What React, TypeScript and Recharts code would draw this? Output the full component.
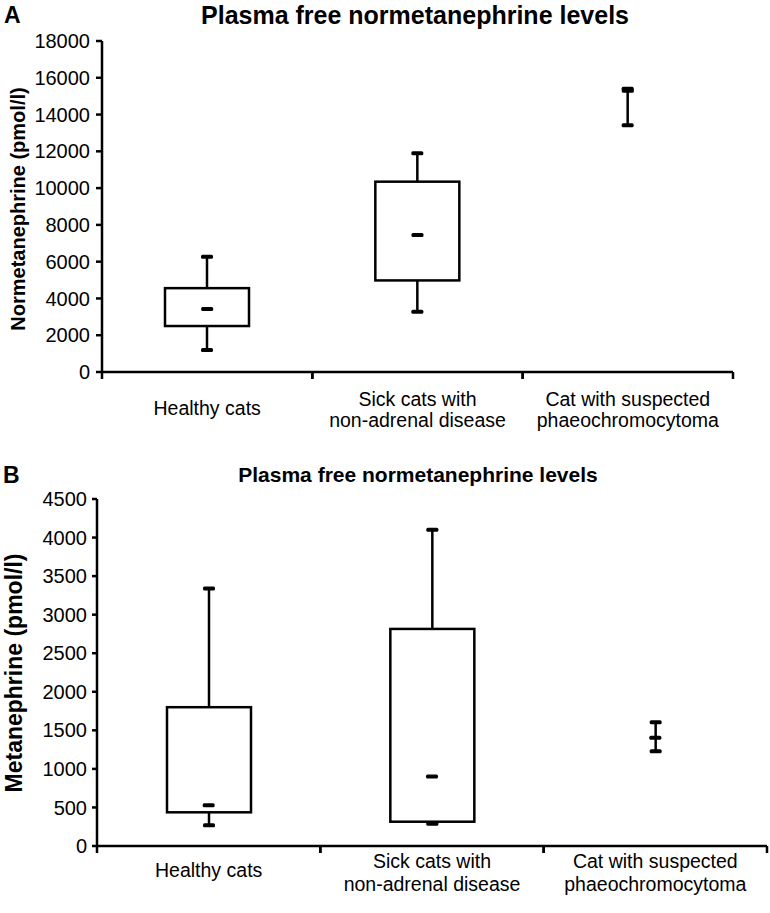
import { ComposedChart, Bar, Scatter, XAxis, YAxis } from 'recharts';

const CATEGORIES = ['Healthy cats', 'Sick cats with\nnon-adrenal disease', 'Cat with suspected\nphaeochromocytoma'];

// A: normetanephrine (pmol/l) – min, quartiles, median, max per group
const NORMET_MIN = [1200, 3280, 13420];
const NORMET_Q1 = [2500, 4980, null];
const NORMET_MEDIAN = [3420, 7450, 15300];
const NORMET_Q3 = [4560, 10350, null];
const NORMET_MAX = [6270, 11900, 15400];
const NORMET_TICKS = [0, 2000, 4000, 6000, 8000, 10000, 12000, 14000, 16000, 18000];

// B: metanephrine (pmol/l)
const MET_MIN = [270, 290, 1230];
const MET_Q1 = [437, 315, null];
const MET_MEDIAN = [530, 900, 1405];
const MET_Q3 = [1800, 2815, null];
const MET_MAX = [3340, 4100, 1605];
const MET_TICKS = [0, 500, 1000, 1500, 2000, 2500, 3000, 3500, 4000, 4500];

const FONT = '"Liberation Sans", Arial, sans-serif';

const buildRows = (min: any[], q1: any[], med: any[], q3: any[], max: any[]) =>
  CATEGORIES.map((name, i) => ({ name, min: min[i], q1: q1[i], median: med[i], q3: q3[i], max: max[i] }));

const normetRows = buildRows(NORMET_MIN, NORMET_Q1, NORMET_MEDIAN, NORMET_Q3, NORMET_MAX);
const metRows = buildRows(MET_MIN, MET_Q1, MET_MEDIAN, MET_Q3, MET_MAX);

function WhiskerShape(props: any) {
  const { x, y, width, height } = props;
  if (!isFinite(x) || !isFinite(y) || !isFinite(height)) return <g />;
  const cx = x + width / 2;
  const top = Math.min(y, y + height);
  const bot = Math.max(y, y + height);
  return (
    <g>
      <line x1={cx} x2={cx} y1={top} y2={bot} stroke="#000" strokeWidth={2.5} />
      <rect x={cx - 6} y={top - 2} width={12} height={4} rx={1.5} fill="#000" />
      <rect x={cx - 6} y={bot - 2} width={12} height={4} rx={1.5} fill="#000" />
    </g>
  );
}

function BoxShape(props: any) {
  const { x, y, width, height, payload } = props;
  if (!payload || payload.q1 == null || !isFinite(y) || !isFinite(height)) return <g />;
  return <rect x={x} y={Math.min(y, y + height)} width={width} height={Math.abs(height)} fill="#fff" stroke="#000" strokeWidth={2.5} />;
}

function MedianShape(props: any) {
  const { cx, cy } = props;
  if (!isFinite(cx) || !isFinite(cy)) return <g />;
  return <rect x={cx - 6} y={cy - 2} width={12} height={4} rx={1.5} fill="#000" />;
}

function CategoryTick(props: any) {
  const { x, y, payload, half, singleDy, firstDy, lineGap } = props;
  const off = payload && payload.offset ? payload.offset : half;
  const lines = String(payload.value).split('\n');
  return (
    <g>
      <line x1={x - off} x2={x - off} y1={y} y2={y + 7} stroke="#000" strokeWidth={2.5} />
      <line x1={x + off} x2={x + off} y1={y} y2={y + 7} stroke="#000" strokeWidth={2.5} />
      <text x={x} y={y} textAnchor="middle" fontFamily={FONT} fontSize={19.5} fill="#000">
        {lines.map((l, i) => (
          <tspan key={i} x={x} dy={i === 0 ? (lines.length === 1 ? singleDy : firstDy) : lineGap}>
            {l}
          </tspan>
        ))}
      </text>
    </g>
  );
}

function BoxPanel({ rows, ticks, max, width, height, margin, yWidth, tickSize, tickMargin, labelDy }: any) {
  const half = (width - yWidth - margin.right) / CATEGORIES.length / 2;
  return (
    <ComposedChart width={width} height={height} data={rows} margin={margin} barGap={-84} barSize={84}>
      <XAxis
        dataKey="name"
        height={60}
        interval={0}
        tickLine={false}
        tickSize={0}
        tickMargin={0}
        axisLine={{ stroke: '#000', strokeWidth: 2.5 }}
        tick={<CategoryTick half={half} {...labelDy} />}
      />
      <YAxis
        width={yWidth}
        domain={[0, max]}
        ticks={ticks}
        interval={0}
        tickSize={tickSize}
        tickMargin={tickMargin}
        axisLine={{ stroke: '#000', strokeWidth: 2.5 }}
        tickLine={{ stroke: '#000', strokeWidth: 2.5 }}
        tick={{ fill: '#000', fontSize: 20, fontFamily: FONT }}
      />
      <Bar dataKey={(d: any) => [d.min, d.max]} shape={<WhiskerShape />} isAnimationActive={false} />
      <Bar dataKey={(d: any) => (d.q1 == null ? null : [d.q1, d.q3])} shape={<BoxShape />} isAnimationActive={false} />
      <Scatter dataKey="median" shape={<MedianShape />} isAnimationActive={false} />
    </ComposedChart>
  );
}

const abs = (left: number, top: number, extra: any = {}) => ({ position: 'absolute' as const, left, top, ...extra });

export default function App() {
  return (
    <div style={{ position: 'absolute', left: 0, top: 0, width: 770, height: 913, background: '#fff', fontFamily: FONT, color: '#000' }}>
      <div style={abs(0, 0)}>
        <BoxPanel
          rows={normetRows}
          ticks={NORMET_TICKS}
          max={18000}
          width={770}
          height={450}
          margin={{ top: 41, right: 37, bottom: 18, left: 0 }}
          yWidth={102}
          tickSize={6}
          tickMargin={6}
          labelDy={{ singleDy: 43, firstDy: 34, lineGap: 21 }}
        />
      </div>
      <div style={abs(0, 460)}>
        <BoxPanel
          rows={metRows}
          ticks={MET_TICKS}
          max={4500}
          width={770}
          height={453}
          margin={{ top: 39, right: 3, bottom: 7, left: 0 }}
          yWidth={97}
          tickSize={5}
          tickMargin={5}
          labelDy={{ singleDy: 31, firstDy: 22, lineGap: 23 }}
        />
      </div>

      <div style={abs(4, 1, { fontSize: 23, fontWeight: 'bold', lineHeight: '28px' })}>A</div>
      <div style={abs(0, 0, { width: 830, textAlign: 'center', fontSize: 25, fontWeight: 'bold', lineHeight: '30px' })}>
        Plasma free normetanephrine levels
      </div>
      <div
        style={abs(18, 209, {
          fontSize: 20,
          fontWeight: 'bold',
          whiteSpace: 'nowrap',
          transform: 'translate(-50%, -50%) rotate(-90deg)',
        })}
      >
        Normetanephrine (pmol/l)
      </div>

      <div style={abs(3, 461, { fontSize: 23, fontWeight: 'bold', lineHeight: '28px' })}>B</div>
      <div style={abs(0, 462, { width: 836, textAlign: 'center', fontSize: 21, fontWeight: 'bold', lineHeight: '26px' })}>
        Plasma free normetanephrine levels
      </div>
      <div
        style={abs(14, 673, {
          fontSize: 23,
          fontWeight: 'bold',
          whiteSpace: 'nowrap',
          transform: 'translate(-50%, -50%) rotate(-90deg)',
        })}
      >
        Metanephrine (pmol/l)
      </div>
    </div>
  );
}
